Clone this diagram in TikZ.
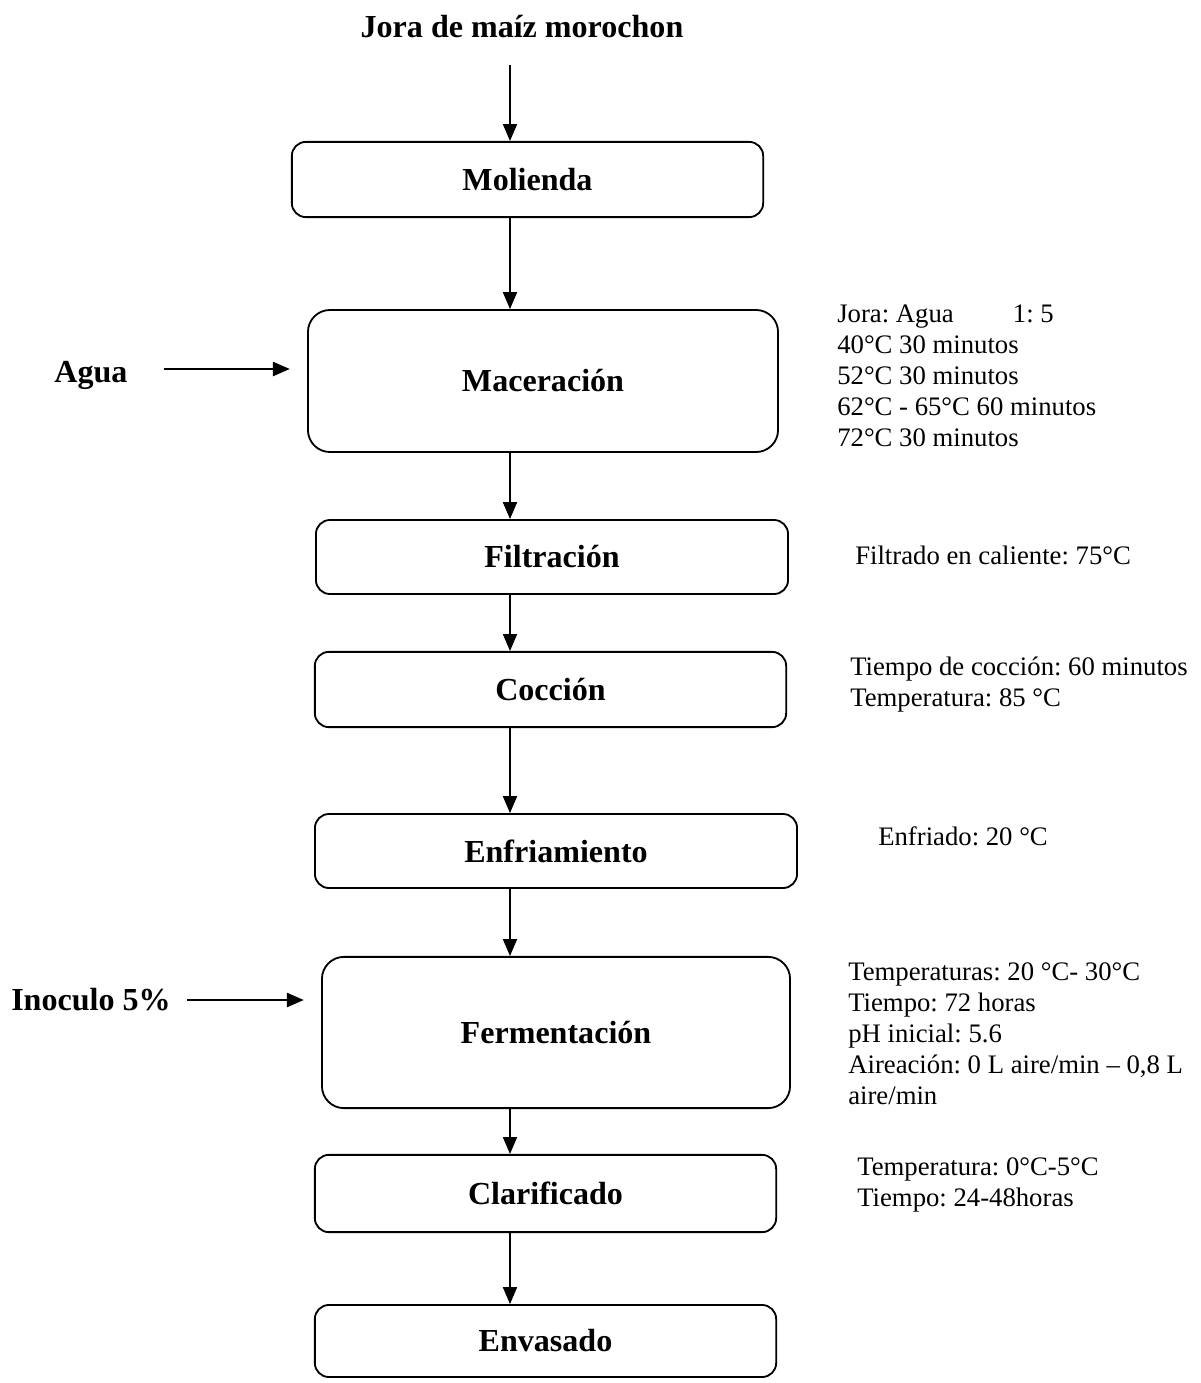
\documentclass[tikz,border=0pt]{standalone}
\usepackage{fontspec}
\setmainfont{Liberation Serif}
\usetikzlibrary{arrows.meta, positioning}
\frenchspacing

\begin{document}
\begin{tikzpicture}[x=0.025cm, y=-0.025cm,
  proc/.style={draw, line width=1.3pt, rounded corners=0.35cm, inner sep=0pt,
    font=\fontsize{22.8}{26}\selectfont\bfseries},
  bigproc/.style={proc, rounded corners=0.55cm},
  entrada/.style={inner sep=0pt, font=\fontsize{22.8}{26}\selectfont\bfseries},
  note/.style={anchor=west, align=left, inner sep=0pt, font=\fontsize{19}{22}\selectfont},
  flow/.style={-{Triangle[length=12pt,width=10pt]}, line width=1pt},
  sideflow/.style={flow, line width=1.6pt}]
\useasboundingbox (0,0) rectangle (1201,1383);

% materia prima
\node[entrada] (titulo) at (522,27) {Jora de maíz morochon};
\coordinate (col) at (510,65);

% etapas del proceso
\node[proc, minimum width=11.78cm, minimum height=1.88cm] (mol) at (527.5,179.5) {Molienda};
\node[bigproc, minimum width=11.75cm, minimum height=3.55cm] (mac) at (543,381) {Maceración};
\node[proc, minimum width=11.8cm, minimum height=1.85cm] (fil) at (552,557) {Filtración};
\node[proc, minimum width=11.78cm, minimum height=1.88cm] (coc) at (550.5,689.5) {Cocción};
\node[proc, minimum width=12.05cm, minimum height=1.85cm] (enf) at (556,851) {Enfriamiento};
\node[bigproc, minimum width=11.7cm, minimum height=3.78cm] (fer) at (556,1032.5) {Fermentación};
\node[proc, minimum width=11.53cm, minimum height=1.93cm] (cla) at (545.5,1193.5) {Clarificado};
\node[proc, minimum width=11.53cm, minimum height=1.8cm] (env) at (545.5,1341) {Envasado};

% flechas principales
\draw[flow] (col) -- (col |- mol.north);
\foreach \a/\b in {mol/mac, mac/fil, fil/coc, coc/enf, enf/fer, fer/cla, cla/env}
  \draw[flow] (\a.south -| col) -- (\b.north -| col);

% entradas laterales
\node[entrada] (agua) at (91,375) {Agua};
\draw[sideflow, shorten <=0.9cm, shorten >=0.43cm] ([yshift=0.15cm]agua.east) -- ([yshift=0.15cm]agua.east -| mac.west);
\node[entrada] (inoc) at (91,1000) {Inoculo 5\%};
\draw[sideflow, shorten <=0.4cm, shorten >=0.43cm] (inoc.east) -- (inoc.east -| fer.west);

% condiciones
\node[note] (nmac) at (837,376) {Jora: Agua\hspace{1.48cm}1: 5\\40°C 30 minutos\\52°C 30 minutos\\62°C - 65°C 60 minutos\\72°C 30 minutos};
\node[note] (nfil) at (855,555) {Filtrado en caliente: 75°C};
\node[note] (ncoc) at (850,685) {Tiempo de cocción: 60 minutos\\Temperatura: 85 °C};
\node[note] (nenf) at (878,836) {Enfriado: 20 °C};
\node[note] (nfer) at (848,1034) {Temperaturas: 20 °C- 30°C\\Tiempo: 72 horas\\pH inicial: 5.6\\Aireación: 0 L aire/min -- 0,8 L\\aire/min};
\node[note] (ncla) at (857,1185) {Temperatura: 0°C-5°C\\Tiempo: 24-48horas};

\end{tikzpicture}
\end{document}
